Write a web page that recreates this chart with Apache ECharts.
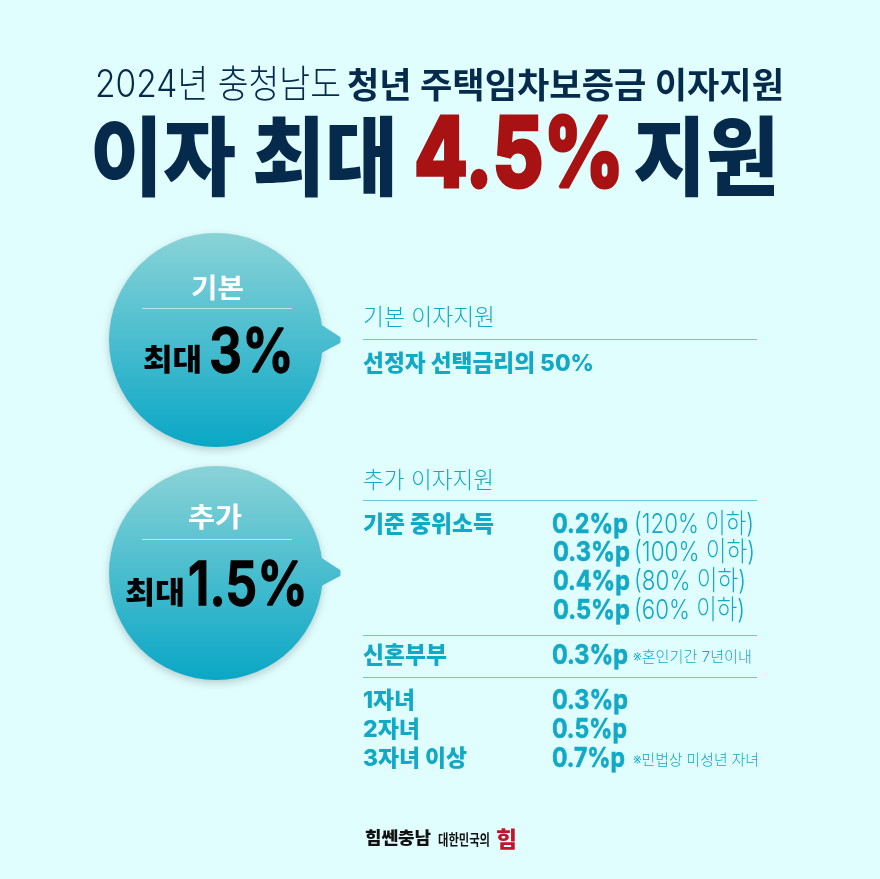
<!DOCTYPE html>
<html>
<head>
<meta charset="utf-8">
<style>html,body{margin:0;padding:0;background:#e1feff}#main{width:880px;height:879px}</style>
<script src="https://cdn.jsdelivr.net/npm/echarts@6/dist/echarts.min.js"></script>
</head>
<body>
<div id="main"></div>
<script>
// texts of the card
const titleLight = '2024년 충청남도';
const titleBold = '청년 주택임차보증금 이자지원';
const headline = ['이자 최대', '4.5%', '지원'];
const bubbleNames = ['기본', '추가'];
const bubbleMax = '최대';
const bubbleValues = ['3%', '1.5%'];
const sectionNames = ['기본 이자지원', '추가 이자지원'];
const baseNote = '선정자 선택금리의 50%';
const incomeLabel = '기준 중위소득';
const incomeValues = ['0.2%p', '0.3%p', '0.4%p', '0.5%p'];
const incomeRanges = ['(120% 이하)', '(100% 이하)', '(80% 이하)', '(60% 이하)'];
const marriedLabel = '신혼부부';
const marriedValue = '0.3%p';
const marriedNote = '※혼인기간 7년이내';
const childLabels = ['1자녀', '2자녀', '3자녀 이상'];
const childValues = ['0.3%p', '0.5%p', '0.7%p'];
const childNote = '※민법상 미성년 자녀';
const slogan = ['힘쎈충남', '대한민국의', '힘'];

const FONT = 'Inter, "Noto Sans CJK KR"';
const NAVY = '#062a4c', RED = '#a81212', TEAL = '#12a9c6', RULE = '#62cbdc';
const measure = document.createElement('canvas').getContext('2d');

// text squeezed to the width it has in the reference (the original font is tighter)
// bold is an extra outline for the numerals, the original ones are heavier
function put(text, x, y, size, weight, fill, width, bold) {
  const font = weight + ' ' + size + 'px ' + FONT;
  measure.font = font;
  const scaleX = width ? width / measure.measureText(text).width : 1;
  const style = { text: text, font: font, fill: fill, align: 'left', verticalAlign: 'middle' };
  if (bold) {
    style.stroke = fill;
    style.lineWidth = bold;
  }
  return { type: 'text', x: x, y: y, scaleX: scaleX, z: 5, style: style };
}

function rule(x1, x2, y, stroke) {
  return { type: 'line', z: 4, shape: { x1: x1, y1: y, x2: x2, y2: y }, style: { stroke: stroke, lineWidth: 1 } };
}

// speech bubble, gradient is global so circle and tail share it
function bubble(cy) {
  const fill = new echarts.graphic.LinearGradient(0, cy - 107, 0, cy + 107, [
    { offset: 0, color: '#8ad3d7' },
    { offset: 1, color: '#09a7c6' }
  ], true);
  return [
    {
      type: 'circle', z: 2,
      shape: { cx: 216, cy: cy, r: 107 },
      style: { fill: fill, shadowBlur: 8, shadowOffsetY: 3, shadowColor: 'rgba(0,0,0,0.2)' }
    },
    {
      type: 'polygon', z: 3,
      shape: { points: [[316, cy - 15], [322, cy - 13], [339, cy - 2], [339, cy + 2], [322, cy + 11], [316, cy + 13]] },
      style: { fill: fill, stroke: fill, lineWidth: 3, lineJoin: 'round' }
    }
  ];
}

const items = [
  { type: 'rect', z: 0, shape: { x: 0, y: 0, width: 880, height: 879 }, style: { fill: '#e1feff' } },

  put(titleLight, 95, 86, 38, 300, NAVY, 246),
  put(titleBold, 347, 87, 35, 700, NAVY, 437),
  put(headline[0], 90, 163, 86, 900, NAVY, 308),
  put(headline[1], 414, 158, 98, 800, RED, 210, 3),
  put(headline[2], 633, 163, 86, 900, NAVY, 146),

  ...bubble(340),
  put(bubbleNames[0], 191, 290, 27, 700, '#ffffff', 53),
  rule(142, 292, 308.5, 'rgba(255,255,255,0.6)'),
  put(bubbleMax, 143, 361, 30, 800, '#000000', 59),
  put(bubbleValues[0], 209, 354, 60, 600, '#000000', 85, 1.5),

  ...bubble(573),
  put(bubbleNames[1], 188, 519, 27, 700, '#ffffff', 54),
  rule(142, 292, 539.5, 'rgba(255,255,255,0.6)'),
  put(bubbleMax, 125, 594, 30, 800, '#000000', 60),
  put(bubbleValues[1], 188, 587, 60, 600, '#000000', 120, 1.5),

  put(sectionNames[0], 363, 318, 23, 300, TEAL, 132),
  rule(363, 757, 339.5, RULE),
  put(baseNote, 363, 364, 23, 800, TEAL, 231),

  put(sectionNames[1], 363, 481, 23, 300, TEAL, 131),
  rule(363, 757, 500.5, RULE),
  put(incomeLabel, 363, 525, 23, 800, TEAL, 131),
  rule(363, 757, 635.5, RULE),
  put(marriedLabel, 363, 656, 23, 800, TEAL, 84),
  put(marriedValue, 552, 656, 27, 700, TEAL, 76, 0.6),
  put(marriedNote, 633, 657, 15, 300, TEAL, 119),
  rule(363, 757, 677.5, RULE),
  put(childNote, 633, 760, 15, 300, TEAL, 126),

  put(slogan[0], 365, 839, 17, 900, '#111111', 66),
  put(slogan[1], 438, 840, 15, 700, '#111111', 52),
  put(slogan[2], 496, 840, 22, 900, '#c4142b', 21)
];

const incomeX = [552, 553, 553, 553];
const incomeY = [525, 553, 582, 611];
const incomeW = [76, 77, 77, 77];
const rangeW = [120, 121, 112, 111];
incomeValues.forEach(function (v, i) {
  items.push(put(v, incomeX[i], incomeY[i], 27, 700, TEAL, incomeW[i], 0.6));
  items.push(put(incomeRanges[i], 634, incomeY[i], 27, 300, TEAL, rangeW[i]));
});

const childY = [701, 730, 759];
const childLabelW = [52, 57, 104];
const childValueW = [76, 75, 73];
childLabels.forEach(function (label, i) {
  items.push(put(label, 363, childY[i], 23, 800, TEAL, childLabelW[i]));
  items.push(put(childValues[i], 552, childY[i], 27, 700, TEAL, childValueW[i], 0.6));
});

const chart = echarts.init(document.getElementById('main'));
chart.setOption({
  backgroundColor: '#e1feff',
  animation: false,
  graphic: { elements: items }
});
</script>
</body>
</html>
